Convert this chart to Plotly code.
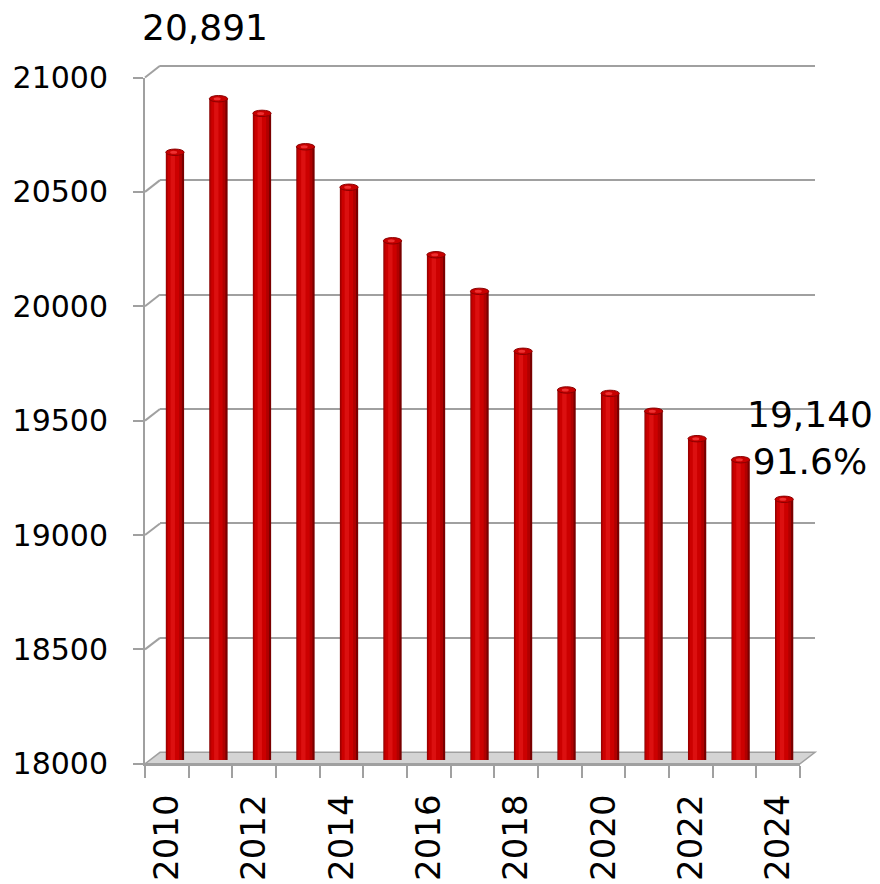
import plotly.graph_objects as go

# ---------------- data ----------------
YEARS = ["2010", "2011", "2012", "2013", "2014", "2015", "2016", "2017",
         "2018", "2019", "2020", "2021", "2022", "2023", "2024"]
VALUES = [20657, 20891, 20827, 20681, 20504, 20270, 20209, 20049,
          19787, 19618, 19603, 19525, 19405, 19313, 19140]
Y_TICKS = [18000, 18500, 19000, 19500, 20000, 20500, 21000]
Y_TICK_TEXT = ["18000", "18500", "19000", "19500", "20000", "20500", "21000"]
Y_MIN, Y_MAX = 18000, 21000

OFF = 8  # page body margin
W, H = 880 - OFF, 884 - OFF
FONT = "Verdana, DejaVu Sans, sans-serif"
GRID = "#a0a0a0"

idx = list(range(len(YEARS)))
xr = [-0.5, len(YEARS) - 0.5]


def px(x):
    return (x - OFF) / W


def py(y):
    return 1 - (y - OFF) / H


# pixel geometry (page pixels) of the pseudo-3D box
FRONT_L, FRONT_R = 145, 800
BACK_L, BACK_R = 160, 815
FRONT_Y0, FRONT_Y1 = 763.8, 77.5   # 18000 / 21000 on the front plane
BACK_Y0, BACK_Y1 = 752.3, 65.7     # 18000 / 21000 on the back wall
MID_L, MID_R = 153.2, 805.9
MID_Y0, MID_Y1 = 760.1, 73.8

# back axis extended slightly so the top gridline is not clipped
EXT = 100
bpp = (BACK_Y0 - BACK_Y1) / (Y_MAX - Y_MIN)
BACK_D0 = BACK_Y0 + EXT * bpp
BACK_D1 = BACK_Y1 - EXT * bpp

fig = go.Figure()

fig.add_trace(go.Scatter(x=idx, y=VALUES, xaxis="x", yaxis="y", mode="markers",
                         marker=dict(opacity=0), hoverinfo="skip", showlegend=False))
fig.add_trace(go.Scatter(x=idx, y=VALUES, xaxis="x2", yaxis="y2", mode="markers",
                         marker=dict(opacity=0), hoverinfo="skip", showlegend=False))

# cylinder bars: layered for shading
layers = [
    (0.42, 0.0, "#7a0000"),
    (0.36, -0.02, "#b00000"),
    (0.26, -0.035, "#cc0000"),
    (0.10, -0.05, "#dc1010"),
]
for w, c, col in layers:
    fig.add_trace(go.Bar(x=idx, y=VALUES, xaxis="x3", yaxis="y3", width=w,
                         offset=c - w / 2, marker=dict(color=col, line=dict(width=0)),
                         hoverinfo="skip", showlegend=False))

shapes = []
fl = [(FRONT_L, FRONT_Y0), (BACK_L, BACK_Y0), (BACK_R, BACK_Y0), (FRONT_R, FRONT_Y0)]
path = "M " + " L ".join(f"{px(a)},{py(b)}" for a, b in fl) + " Z"
shapes.append(dict(type="path", path=path, xref="paper", yref="paper",
                   fillcolor="#d4d4d4", line=dict(color=GRID, width=1.5), layer="below"))
for v in Y_TICKS[1:]:
    f = (v - Y_MIN) / (Y_MAX - Y_MIN)
    fy = FRONT_Y0 + f * (FRONT_Y1 - FRONT_Y0)
    by = BACK_Y0 + f * (BACK_Y1 - BACK_Y0)
    shapes.append(dict(type="line", xref="paper", yref="paper",
                       x0=px(FRONT_L), y0=py(fy), x1=px(BACK_L), y1=py(by),
                       line=dict(color=GRID, width=2), layer="below"))
unit = (Y_MAX - Y_MIN) / (MID_Y0 - MID_Y1)
for i, v in zip(idx, VALUES):
    shapes.append(dict(type="circle", xref="x3", yref="y3",
                       x0=i - 0.21, x1=i + 0.21, y0=v - 3.2 * unit, y1=v + 3.2 * unit,
                       fillcolor="#c80000", line=dict(color="#8a0000", width=1), layer="above"))
    shapes.append(dict(type="circle", xref="x3", yref="y3",
                       x0=i - 0.11, x1=i + 0.05, y0=v - 1.5 * unit, y1=v + 1.5 * unit,
                       fillcolor="#ee3030", line=dict(width=0), layer="above"))

max_v = max(VALUES)
last_v = VALUES[-1]
annotations = [
    dict(text=f"{max_v:,}", xref="paper", yref="paper", x=px(205), y=py(28),
         showarrow=False, xanchor="center", yanchor="middle",
         font=dict(family=FONT, size=36, color="#000")),
    dict(text=f"{last_v:,}<br>{last_v / max_v * 100:.1f}%", xref="paper", yref="paper",
         x=px(875), y=py(438), showarrow=False, xanchor="right", yanchor="middle",
         align="center", font=dict(family=FONT, size=36, color="#000")),
]

fig.update_layout(
    width=W, height=H, autosize=False,
    margin=dict(l=0, r=0, t=0, b=0, pad=0),
    paper_bgcolor="white", plot_bgcolor="rgba(0,0,0,0)",
    barmode="overlay", showlegend=False,
    font=dict(family=FONT, color="#000"),
    shapes=shapes, annotations=annotations,
    xaxis=dict(domain=[px(BACK_L), px(BACK_R)], range=xr, anchor="y", automargin=False,
               showgrid=False, zeroline=False, showticklabels=False, ticks="", showline=False),
    yaxis=dict(domain=[py(BACK_D0), py(BACK_D1)], range=[Y_MIN - EXT, Y_MAX + EXT], anchor="x",
               automargin=False,
               tickvals=Y_TICKS[1:], showgrid=True, gridcolor=GRID, gridwidth=2,
               zeroline=False, showticklabels=False, ticks="", showline=False),
    xaxis2=dict(domain=[px(FRONT_L), px(FRONT_R)], range=xr, anchor="y2", automargin=False,
                tickvals=idx[::2], ticktext=YEARS[::2], tickangle=-90, ticks="",
                tickfont=dict(size=34, family=FONT, color="#000"),
                showline=True, linecolor=GRID, linewidth=2, showgrid=False, zeroline=False,
                ticklabelstandoff=15,
                minor=dict(tickvals=[i - 0.5 for i in range(len(YEARS) + 1)],
                           ticks="outside", ticklen=12, tickwidth=2, tickcolor=GRID,
                           showgrid=False)),
    yaxis2=dict(domain=[py(FRONT_Y0), py(FRONT_Y1)], range=[Y_MIN, Y_MAX], anchor="x2",
                automargin=False,
                tickvals=Y_TICKS, ticktext=Y_TICK_TEXT, ticks="outside", ticklen=10,
                tickwidth=2, tickcolor=GRID,
                tickfont=dict(size=30, family=FONT, color="#000"),
                showline=True, linecolor=GRID, linewidth=2, showgrid=False, zeroline=False,
                ticklabelstandoff=19),
    xaxis3=dict(domain=[px(MID_L), px(MID_R)], range=xr, anchor="y3", visible=False,
                automargin=False),
    yaxis3=dict(domain=[py(MID_Y0), py(MID_Y1)], range=[Y_MIN, Y_MAX], anchor="x3",
                visible=False, automargin=False),
)

fig.write_html("out.html")
